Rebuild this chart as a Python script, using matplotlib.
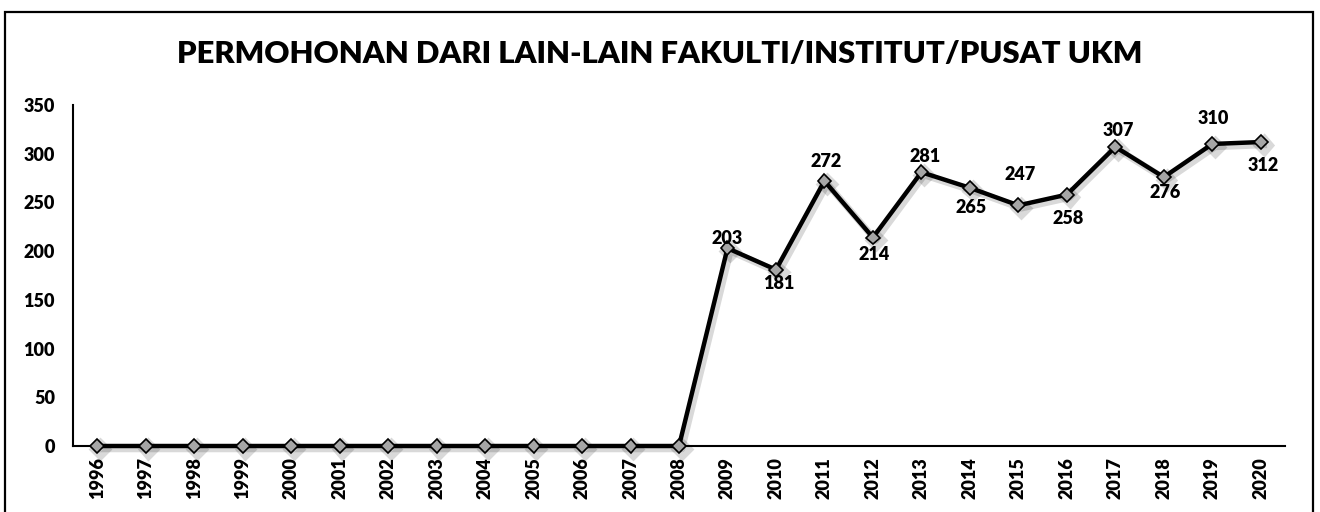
import matplotlib
matplotlib.use("Agg")
import matplotlib.pyplot as plt
import matplotlib.patheffects as pe
from matplotlib.patches import Rectangle

# Data
years = [str(y) for y in range(1996, 2021)]
applications = [0, 0, 0, 0, 0, 0, 0, 0, 0, 0, 0, 0, 0,
                203, 181, 272, 214, 281, 265, 247, 258, 307, 276, 310, 312]
title = "PERMOHONAN DARI LAIN-LAIN FAKULTI/INSTITUT/PUSAT UKM"

# label offsets (points) for the labelled years, Excel-style placement
label_offsets = [(0, 7), (2, -10), (1, 14), (1, -12), (3, 11), (1, -14),
                 (1, 22), (1, -17), (2, 12), (1, -11), (1, 18), (2, -17)]

plt.rcParams['font.family'] = ['Lato', 'DejaVu Sans']
plt.rcParams['font.weight'] = 'heavy'

fig = plt.figure(figsize=(13.2, 5.12), dpi=100)
ax = fig.add_axes([73 / 1320, 1 - 446 / 512, (1285 - 73) / 1320, (446 - 105) / 512])

xs = list(range(len(years)))
line, = ax.plot(xs, applications, color='black', lw=3.2, marker='D', markersize=7,
                markerfacecolor='#a6a6a6', markeredgecolor='black', markeredgewidth=1.2,
                zorder=3, clip_on=False)
line.set_path_effects([pe.SimpleLineShadow(offset=(2, -2), alpha=0.15, linewidth=5),
                       pe.Normal()])

# value labels only for the non-zero years
labelled = [i for i, v in enumerate(applications) if v > 0]
for i, off in zip(labelled, label_offsets):
    ax.annotate(str(applications[i]), xy=(i, applications[i]), xytext=off,
                textcoords='offset points', ha='center', va='center',
                fontsize=13, fontweight='heavy', color='black')

ax.set_xlim(-0.5, len(years) - 0.5)
ax.set_ylim(0, 350)
ax.set_yticks(range(0, 351, 50))
ax.set_xticks(xs)
ax.set_xticklabels(years, rotation=90, fontsize=13, fontweight='heavy')
ax.tick_params(axis='y', length=0, pad=13, labelsize=13)
ax.tick_params(axis='x', length=0, pad=8)
for s in ['top', 'right']:
    ax.spines[s].set_visible(False)
for s in ['left', 'bottom']:
    ax.spines[s].set_linewidth(1.5)
    ax.spines[s].set_color('black')

fig.text(0.5, 1 - 54 / 512, title, ha='center', va='center', fontsize=22.3, fontweight='heavy')

# outer chart-area border (bottom edge falls outside the crop)
fig.add_artist(Rectangle((5 / 1320, -0.05), (1313 - 5) / 1320, 1.05 - 12 / 512,
                         transform=fig.transFigure, fill=False, lw=1.6,
                         edgecolor='black', clip_on=False))

fig.savefig("out.png", dpi=100)
